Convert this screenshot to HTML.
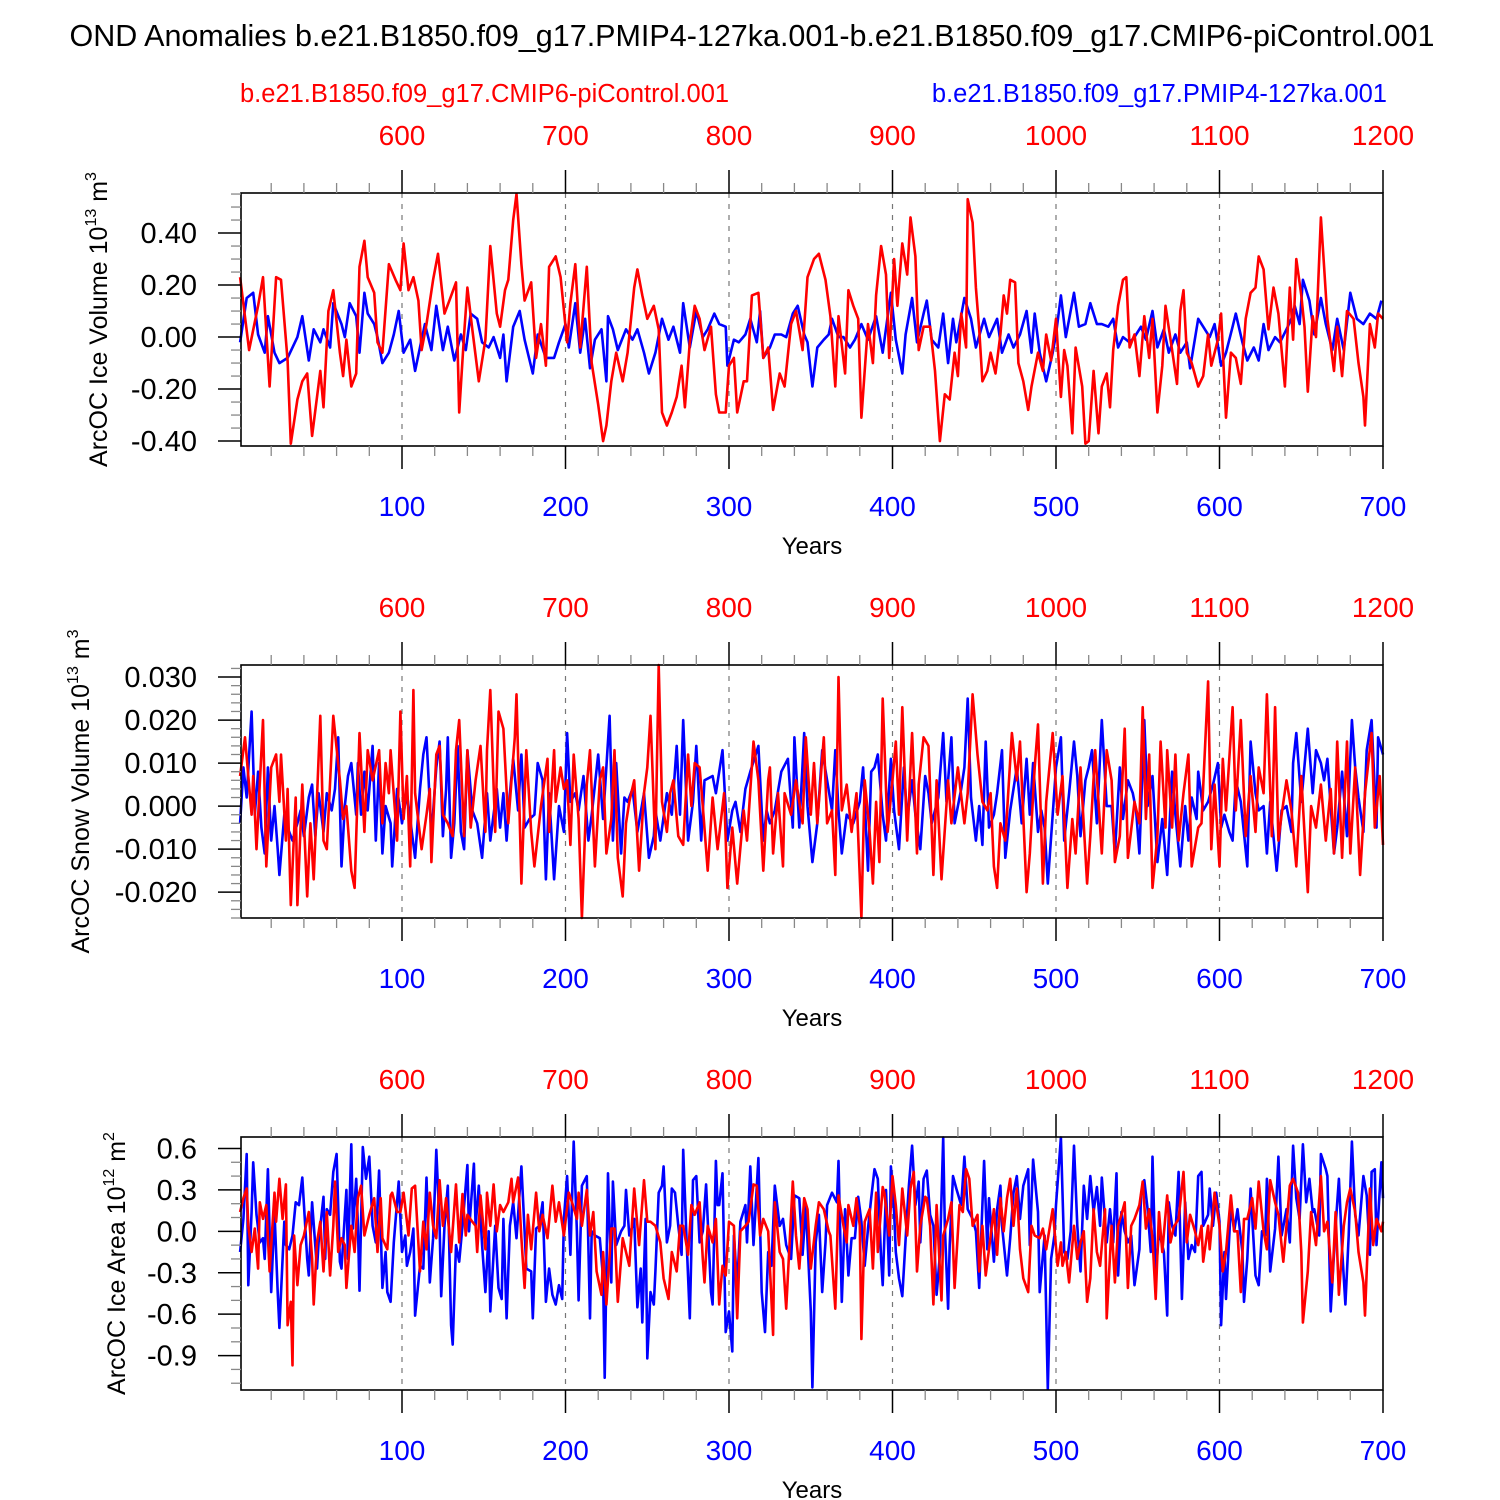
<!DOCTYPE html>
<html><head><meta charset="utf-8"><style>
html,body{margin:0;padding:0;background:#fff;}
svg{display:block;font-family:"Liberation Sans",Arial,sans-serif;}
</style></head><body>
<svg id="chart" width="1500" height="1500" viewBox="0 0 1500 1500" xmlns="http://www.w3.org/2000/svg">
<text x="752" y="46" font-size="30.5" text-anchor="middle" fill="#000">OND Anomalies b.e21.B1850.f09_g17.PMIP4-127ka.001-b.e21.B1850.f09_g17.CMIP6-piControl.001</text>
<text x="240" y="102" font-size="25.5" fill="#ff0000">b.e21.B1850.f09_g17.CMIP6-piControl.001</text>
<text x="1387" y="102" font-size="25.5" text-anchor="end" fill="#0000ff">b.e21.B1850.f09_g17.PMIP4-127ka.001</text>
</svg>
<script>
// ---------------- DATA ----------------
// Panel 1: ice volume (10^13 m^3)
const p1RedYears=[1,6.5,12,15,19,23,26,30,32,36,39,42,45,50,52,55,58,62,64,66,69,72,74,77,79,83,85,88,92,96,99,101,104,107,110,112,115,119,122,126,129,133,135,138,140,143,147,151,154,158,160,163,165,168,170,173,175,179,182,185,188,190,194,197,201,203,206,209,213,216,220,223,225,228,231,235,238,242,244,247,250,254,257,259,262,265,268,271,273,276,279,282,285,289,292,294,298,300,303,305,309,311,314,318,321,324,327,331,334,338,341,345,348,352,355,359,362,365,367,371,373,376,379,381,385,388,390,393,396,398,401,403,406,409,411,414,416,419,423,426,429,432,435,438,440,442,445,446,449,451,453,455,458,460,463,466,468,470,472,475,477,480,483,485,489,492,494,497,500,503,505,507,510,512,516,518,520,523,526,528,531,533,535,538,541,543,545,548,551,554,557,559,562,565,567,571,574,576,578,580,583,587,590,593,595,599,601,604,607,610,613,616,619,622,624,627,630,633,636,638,640,643,645,647,650,652,654,657,659,662,664,666,670,672,675,678,682,685,688,689,692,695,697,700];
const p1RedVals=[.23,-.05,.12,.23,-.19,.23,.22,-.09,-.41,-.24,-.17,-.14,-.38,-.13,-.27,.10,.18,-.06,-.15,-.01,-.19,-.14,.27,.37,.23,.17,-.02,-.06,.28,.22,.18,.36,.18,.23,.14,-.05,.05,.22,.32,.09,.14,.21,-.29,.01,.19,.03,-.17,-.01,.35,.09,.04,.18,.22,.45,.55,.28,.14,.21,-.08,.05,-.11,.27,.31,.23,-.02,.13,.28,-.04,.27,-.10,-.26,-.40,-.34,-.17,-.06,-.17,-.06,.19,.26,.16,.07,.12,.03,-.29,-.34,-.29,-.23,-.11,-.27,-.02,.12,.07,-.05,.04,-.22,-.29,-.29,-.11,-.08,-.29,-.17,-.17,.16,.17,-.08,-.04,-.28,-.14,-.19,.05,.10,-.05,.23,.30,.32,.22,.08,-.19,.08,-.14,.18,.12,.07,-.31,.05,-.10,.16,.35,.24,-.08,.30,.12,.36,.24,.46,.31,-.05,.04,.04,-.13,-.40,-.22,-.24,-.06,-.15,.09,-.04,.53,.44,.19,.03,-.17,-.13,-.06,-.14,.01,.16,.09,.22,.21,-.10,-.17,-.28,-.19,-.06,-.13,.01,-.09,.07,-.23,-.05,-.11,-.37,-.04,-.19,-.41,-.40,-.13,-.37,-.19,-.14,-.27,-.05,.12,.22,.23,-.04,.01,-.15,.08,-.08,.07,-.29,-.11,.12,-.05,-.18,.10,.18,-.06,-.10,-.19,-.15,.01,-.11,-.01,.09,-.31,-.06,-.08,-.18,.07,.17,.19,.31,.26,.03,.19,.09,-.05,-.19,.19,-.01,.30,.16,.04,-.21,.08,.00,.46,.27,.07,-.13,.04,-.15,.10,.07,-.10,-.23,-.34,.05,-.04,.09,.07];
const p1BlueYears=[1,5,9,12,16,18,22,25,30,36,39,43,46,50,52,56,58,63,65,68,72,74,77,79,83,85,88,92,95,98,101,105,108,112,114,118,121,125,128,132,136,139,142,146,149,153,156,160,162,164,168,172,175,180,183,188,193,196,200,202,206,209,212,215,218,222,225,226,229,232,237,241,244,248,251,255,259,263,266,270,272,276,280,284,287,291,294,298,299,303,306,310,313,317,319,321,325,328,332,335,339,342,346,348,351,354,358,361,363,367,370,374,377,381,385,390,394,399,402,406,408,412,415,419,421,424,428,431,434,437,439,444,448,451,456,459,464,467,471,474,478,482,485,487,490,494,498,500,503,506,511,514,518,521,525,528,532,535,538,541,545,548,552,555,559,562,566,569,573,576,580,582,587,590,594,597,601,604,608,610,614,617,621,624,627,630,634,637,641,644,646,649,651,655,658,662,665,669,672,676,680,684,688,692,696,699];
const p1BlueVals=[-.02,.15,.17,.01,-.06,.08,-.06,-.10,-.08,.00,.08,-.09,.03,-.02,.03,-.04,.13,.05,.00,.13,.08,-.06,.17,.09,.05,.00,-.10,-.06,.01,.10,-.06,-.01,-.13,-.01,.05,-.05,.12,-.05,.04,-.09,.01,-.05,.09,.07,-.02,-.04,.00,-.08,.01,-.17,.04,.10,-.01,-.14,.01,-.08,-.08,-.02,.05,-.04,.13,-.06,.07,-.12,-.01,.03,-.17,.08,.03,-.05,.03,-.01,.03,-.06,-.14,-.06,.07,-.01,.04,-.06,.13,-.04,.10,.00,.03,.09,.05,.04,-.11,-.01,-.02,.01,.07,-.02,.10,-.08,-.04,.01,.01,.00,.09,.12,.01,-.02,-.19,-.04,-.01,.01,.07,.00,.00,-.04,-.01,.05,-.01,.08,-.06,.17,-.01,-.14,.01,.15,-.02,.09,.14,-.01,-.04,.09,-.10,.07,-.02,.15,.07,-.04,.07,.00,.07,-.06,.01,-.04,.01,.10,-.06,.09,-.06,-.17,-.06,.01,.16,.00,.17,.04,.05,.13,.05,.05,.04,.07,-.04,.00,-.02,.00,.04,-.01,.10,-.04,.03,-.06,.01,-.06,-.02,-.12,.07,.04,.00,.05,-.11,-.06,.04,.09,-.02,-.09,-.04,-.09,.05,-.05,.00,-.02,.03,.07,.12,.05,.22,.14,.01,.15,.05,-.05,.07,-.05,.17,.07,.05,.09,.07,.14];
// Panel 2: snow volume (10^-3 x 10^13 m^3)
const p2RedYears=[1,4,8,9,11,15,17,20,23,25,26,29,30,32,35,36,39,42,44,46,50,52,54,58,62,64,66,69,71,74,77,79,82,86,88,90,92,93,97,99,101,103,105,107,108,112,115,117,118,121,123,125,128,131,133,135,138,140,142,145,148,151,152,154,157,159,162,165,167,169,170,173,176,179,181,185,189,190,193,194,197,199,201,203,205,208,210,213,215,218,221,223,225,228,230,232,235,237,239,242,245,248,250,252,255,257,259,262,264,266,269,272,275,277,279,282,284,287,290,293,297,299,302,305,309,311,315,318,321,324,325,327,330,333,334,338,341,345,347,350,352,354,358,360,363,365,367,369,372,375,378,381,383,386,388,390,392,394,397,400,402,404,406,409,412,415,416,419,422,425,427,430,434,436,440,444,446,449,452,455,458,460,462,464,466,469,473,476,478,482,484,487,489,492,494,498,501,504,507,510,512,515,519,521,524,528,531,534,536,539,542,544,548,551,553,555,557,559,562,564,567,568,571,573,575,578,581,583,587,589,593,595,597,600,602,604,608,610,613,616,619,622,624,627,629,632,634,636,638,641,644,647,650,654,656,659,662,665,668,670,672,675,678,680,683,686,689,693,695,698,700];
const p2RedVals=[7,16,-2,7,-10,20,-14,9,12,1,12,-8,4,-23,2,-23,5,-21,-4,-17,21,-8,-10,21,6,-3,0,-15,-19,17,-6,13,6,13,-4,10,3,13,-8,22,-3,7,-14,27,3,-10,-2,4,-13,12,14,-2,-4,-7,13,20,-7,13,-5,6,14,-6,13,27,-6,22,18,-4,6,16,26,-18,13,-6,-14,0,11,-6,13,1,9,4,6,-9,12,-3,-26,5,13,-14,6,9,-11,-3,13,-12,-21,-4,1,6,-15,3,9,21,-10,33,1,-6,3,6,-7,-9,12,0,10,9,0,-15,2,-10,3,-19,-5,-18,-1,-8,15,6,-15,6,9,-11,3,-14,3,-2,6,-4,16,-2,10,-4,16,-4,-1,-16,30,-1,5,-6,3,-26,6,-6,-18,1,-13,25,-6,6,15,-2,23,-8,17,-11,5,16,14,-16,6,-17,6,-4,9,-4,3,26,12,1,-1,3,-14,-19,-4,-8,17,6,15,-20,-11,9,19,-18,1,17,-2,7,-19,-3,-11,9,-18,-7,13,-11,13,6,-13,-7,18,-12,1,-4,23,-3,12,-19,-7,15,-5,13,-5,12,-8,3,12,-14,-5,-4,29,-10,5,-14,11,-1,23,-1,20,-7,7,-6,9,3,26,-7,23,-8,-2,6,-1,-14,7,-20,0,-5,5,-8,4,-11,15,-12,15,-11,9,-16,3,17,-5,7,-9];
const p2BlueYears=[1,3,5,8,10,12,14,16,18,20,22,24,25,28,30,33,36,38,40,43,45,47,49,52,54,57,59,61,63,65,67,69,72,73,75,77,79,82,84,86,88,90,93,94,97,100,103,106,108,111,113,115,118,121,123,125,127,128,130,132,134,136,138,140,143,146,149,152,154,158,160,162,164,166,168,171,173,175,178,181,183,186,188,190,193,196,199,201,203,206,208,211,214,216,220,223,227,229,231,234,236,238,241,244,248,251,254,255,258,262,265,268,270,272,275,278,280,283,285,290,292,296,299,302,304,307,310,313,318,321,323,325,328,332,336,339,340,343,346,348,351,354,357,360,363,365,367,369,372,376,380,382,385,387,389,391,394,396,399,401,404,407,409,412,414,417,420,422,424,428,431,433,436,438,442,444,446,448,451,453,455,457,459,462,464,467,469,472,474,476,479,482,484,486,489,491,493,495,498,500,503,505,508,511,513,515,518,520,522,525,528,531,534,536,539,541,544,547,549,551,554,556,559,562,565,568,571,573,576,579,581,583,586,587,590,593,596,599,601,603,606,608,610,613,617,619,622,624,627,629,631,635,638,641,644,645,647,650,654,657,659,662,664,666,670,672,675,678,681,683,685,688,690,693,696,697,700];
const p2BlueVals=[-4,9,2,22,-2,8,-5,-11,9,-8,0,-10,-16,-2,-5,-8,-4,-1,-7,2,5,-7,3,-6,3,-1,4,16,-14,0,7,10,-2,10,-2,8,-1,14,-8,10,-11,0,-4,-14,4,-4,3,-6,-12,4,12,16,-7,9,15,-7,4,16,-12,-4,14,-6,-10,13,-1,-4,-12,3,-8,4,-5,3,-8,3,11,-1,12,-5,-3,-2,10,6,-17,3,-17,0,-6,17,1,3,-1,7,-8,-2,12,-3,21,-8,10,-11,2,1,4,-6,3,-12,-7,-1,-8,3,-2,14,-2,20,-8,1,14,-8,6,7,3,13,-8,-1,1,-6,4,8,14,-8,-1,-4,-1,8,11,-5,16,-5,17,0,-13,-4,13,6,-1,13,-1,-11,-2,-4,1,9,-15,8,9,12,-2,-8,11,-1,-10,9,-3,6,-2,-10,7,3,-4,2,17,1,16,-4,4,9,25,2,-8,0,-9,15,-5,-2,3,13,-12,-1,4,9,-4,11,-2,10,-6,-1,-5,-18,-2,9,16,-8,3,15,7,-7,6,9,13,-4,20,0,0,-11,9,-3,6,3,-1,-11,20,0,7,-13,-3,-16,8,-2,-14,0,-8,2,-3,8,-1,1,5,10,-5,-2,-6,-8,6,1,-14,15,3,-1,0,-11,1,-15,-1,0,-6,10,17,1,18,3,13,10,6,11,-11,-5,8,-7,20,9,2,-6,13,20,-5,16,12];
// Panel 3: ice area (10^-2 x 10^12 m^2)
const p3RedYears=[1,3,5,6,8,10,12,13,15,17,19,22,23,25,27,29,30,32,33,34,36,38,40,43,45,46,48,50,52,54,56,58,59,61,63,65,66,69,71,73,75,77,80,83,85,87,88,91,93,94,97,99,101,104,106,108,111,113,115,117,119,121,123,125,127,130,133,135,137,139,140,143,145,146,148,151,152,154,156,158,160,162,165,167,168,171,173,175,177,179,182,184,186,189,192,194,196,199,200,202,204,207,208,210,213,215,217,219,222,223,225,228,230,232,235,237,239,242,244,245,248,250,252,255,258,260,263,265,268,270,272,275,277,279,282,284,285,287,290,292,294,296,298,300,303,305,307,310,312,315,317,319,321,324,327,328,331,333,335,339,341,343,346,348,350,353,355,358,361,362,365,367,370,372,373,376,378,380,381,383,386,388,390,391,394,395,398,400,402,404,406,409,411,413,415,417,420,421,423,425,427,430,431,434,436,438,441,443,445,447,449,452,453,455,457,459,462,464,466,468,470,472,474,476,478,480,483,485,487,490,492,494,496,498,501,503,504,506,508,511,513,515,517,519,521,523,525,527,530,531,534,536,538,540,542,544,546,548,551,553,555,557,559,561,563,565,568,570,572,575,578,580,582,585,587,589,590,593,594,597,600,602,604,607,609,611,613,615,617,620,622,624,627,629,631,634,636,639,641,643,645,648,650,651,654,656,659,662,664,666,669,671,673,676,678,680,683,685,688,689,692,694,696,699,700];
const p3RedVals=[14,24,31,4,-15,2,-27,21,9,19,-29,28,7,38,9,34,-68,-51,-97,-3,-39,-10,-3,14,-20,-53,-8,7,-29,14,-32,4,36,-15,-5,-10,-41,4,-15,24,33,-3,12,24,-15,24,-5,-13,26,28,14,14,28,-3,31,33,-29,7,-13,28,4,-5,37,4,24,-15,34,-8,27,-3,12,7,4,-15,26,-13,28,4,34,0,19,14,21,38,21,39,-5,-41,12,-13,28,0,12,-5,33,7,21,-3,7,28,21,9,28,4,30,-3,14,-29,-46,-15,-53,2,2,-51,-5,-15,-25,31,4,-10,37,7,7,4,-8,-34,-49,-15,-29,4,4,-17,19,12,21,-20,-37,4,-8,9,-53,-25,-32,7,4,-63,0,4,7,34,33,-3,9,0,-75,21,-15,-20,-56,36,-3,-27,24,16,-27,4,21,16,0,-3,-56,26,4,-8,19,4,24,4,-78,7,16,-27,28,-15,32,28,-3,40,19,-10,31,-3,31,43,-29,4,25,24,4,-53,19,-50,-3,9,21,-41,19,14,45,38,4,12,-29,4,-32,-13,16,-17,24,0,24,38,4,31,-13,-34,-44,4,-3,-5,2,-13,2,16,-25,-8,-25,-15,-37,4,-20,-8,0,-51,-34,16,-15,-25,16,-63,4,-37,4,12,21,-41,4,9,19,36,2,16,-5,-49,14,-15,26,-8,3,9,43,-8,12,0,-10,4,-22,4,-13,28,4,-29,-15,26,0,0,-44,9,9,24,2,36,0,-13,37,21,12,-22,4,33,38,28,-15,-66,-29,14,-10,40,0,7,-37,14,-46,4,21,31,14,-15,-37,-61,31,-10,9,0,7];
const p3BlueYears=[1,3,5,6,8,9,11,13,15,16,18,20,22,24,25,28,29,31,33,35,37,39,42,43,45,48,49,52,53,54,56,58,60,62,63,66,67,69,70,72,73,74,76,78,80,82,84,86,88,90,91,93,95,98,100,102,103,105,107,108,111,113,115,117,119,121,123,124,126,128,130,131,133,135,137,140,141,144,145,147,149,151,153,154,157,159,161,162,164,166,168,170,173,175,176,179,180,182,184,186,188,190,192,194,196,198,199,201,203,205,207,208,210,213,215,216,218,221,223,224,226,228,229,231,234,236,237,239,241,242,244,246,247,249,250,252,254,255,257,259,260,262,264,265,267,269,271,272,274,276,278,280,282,284,286,289,290,292,293,294,296,298,300,302,303,305,307,310,311,313,315,318,320,322,324,326,328,331,333,335,338,340,343,345,347,350,351,353,355,357,359,360,363,366,367,369,371,373,375,377,379,381,383,385,387,389,391,393,394,396,398,399,401,402,404,406,409,410,412,414,416,417,419,421,423,425,427,429,431,432,434,435,437,439,442,444,446,449,451,453,456,458,459,462,464,466,467,470,472,474,476,478,480,483,484,486,489,490,493,495,497,499,500,503,505,507,509,511,513,515,517,519,521,523,525,527,528,531,533,535,537,538,540,542,544,546,548,551,552,554,556,558,559,561,563,566,568,569,571,573,575,577,579,581,583,585,587,589,590,593,594,596,598,600,601,603,604,607,609,611,614,615,617,619,622,624,626,628,629,631,634,636,638,641,643,645,647,649,651,653,655,657,658,661,662,665,666,668,671,673,675,677,679,681,683,685,688,690,692,693,695,696,699,700];
const p3BlueVals=[-15,9,56,-39,14,50,12,-8,-5,-20,45,-44,14,-44,-70,7,-10,-13,-3,21,19,39,-20,-32,21,-27,-8,25,-20,16,12,43,56,-22,-27,30,-20,63,2,38,4,-43,61,38,54,4,-8,44,-41,-15,-44,-51,-8,36,-15,-3,-25,-15,2,-61,-25,-27,39,-37,-5,59,4,-47,4,33,-68,-82,-10,-22,4,48,0,49,4,33,-10,-44,0,-58,4,-41,-49,9,-63,4,21,-5,47,0,-27,-29,-63,2,4,21,-51,-27,-46,-53,-39,-49,9,40,-17,65,0,-50,33,40,-63,0,-3,-5,-34,-106,42,-37,36,-10,0,4,30,-3,4,9,-55,-27,-66,9,-92,-44,-53,-29,28,33,47,-8,4,31,28,4,-17,59,-5,-63,37,40,-8,0,34,-44,-53,51,19,19,42,-73,-58,-87,-3,-39,7,19,-8,47,-10,53,-44,-73,-15,-25,33,4,9,-10,-20,26,24,-17,19,-58,-113,-8,12,-44,-8,19,28,21,51,-51,16,-32,-5,-5,25,7,-25,2,24,45,38,-20,-39,30,-32,47,14,-15,-34,-47,14,33,62,19,36,-8,38,44,12,4,-46,-17,68,4,-56,-10,40,31,19,54,16,9,0,-41,51,-13,24,-22,16,33,4,-32,-5,28,40,9,33,45,-10,52,14,-44,-3,-114,-20,-3,19,68,-15,-20,0,62,4,-29,33,9,40,14,32,4,39,-8,16,-8,42,-32,14,0,-8,-3,-39,-13,26,37,16,-15,54,-32,0,-15,-61,21,4,-3,43,-49,21,-20,-10,-15,40,43,4,12,31,4,28,7,-68,-15,-49,19,0,16,-15,-51,-20,31,-32,-39,0,-3,38,-29,2,54,-3,16,-8,62,24,9,63,21,38,14,16,-3,56,45,40,-58,4,38,-13,-53,-3,65,12,-3,40,26,-17,43,45,-10,50,24];
// axis tick labels
const blueTickLabels=["100","200","300","400","500","600","700"];
const redTickLabels=["600","700","800","900","1000","1100","1200"];
const p1TickLabels=["-0.40","-0.20","0.00","0.20","0.40"];
const p2TickLabels=["-0.020","-0.010","0.000","0.010","0.020","0.030"];
const p3TickLabels=["-0.9","-0.6","-0.3","0.0","0.3","0.6"];

// ---------------- DRAWING ----------------
const NS="http://www.w3.org/2000/svg";
const svg=document.getElementById('chart');
function mk(tag,attrs,parent){const e=document.createElementNS(NS,tag);for(const k in attrs)e.setAttribute(k,attrs[k]);(parent||svg).appendChild(e);return e;}
const X0=241,X1=1383;
const xScale=yr=>238.5+yr*1.635;

const panels=[
 {top:193,bot:446,vmin:-0.419,vmax:0.554,scale:1,minor:0.05,majorVals:[-0.4,-0.2,0,0.2,0.4],labels:p1TickLabels,red:[p1RedYears,p1RedVals],blue:[p1BlueYears,p1BlueVals],title:"ArcOC Ice Volume 10",sup:"13",unit:" m",usup:"3",titleX:107,name:"ice-volume"},
 {top:665,bot:918,vmin:-0.0260,vmax:0.0328,scale:0.001,minor:0.002,majorVals:[-0.02,-0.01,0,0.01,0.02,0.03],labels:p2TickLabels,red:[p2RedYears,p2RedVals],blue:[p2BlueYears,p2BlueVals],title:"ArcOC Snow Volume 10",sup:"13",unit:" m",usup:"3",titleX:89,name:"snow-volume"},
 {top:1137,bot:1390,vmin:-1.149,vmax:0.683,scale:0.01,minor:0.1,majorVals:[-0.9,-0.6,-0.3,0,0.3,0.6],labels:p3TickLabels,red:[p3RedYears,p3RedVals],blue:[p3BlueYears,p3BlueVals],title:"ArcOC Ice Area 10",sup:"12",unit:" m",usup:"2",titleX:125,name:"ice-area"}
];

panels.forEach((p,pi)=>{
  const g=mk('g',{});
  
  
  const yScale=v=>p.bot-(v-p.vmin)/(p.vmax-p.vmin)*(p.bot-p.top);
  for(let yr=100;yr<=600;yr+=100){
    const l=mk('line',{x1:xScale(yr),x2:xScale(yr),y1:p.top,y2:p.bot,stroke:'#777','stroke-width':1.2,'stroke-dasharray':'5,6'},g);
    
    
  }
  [['blue',p.blue,'#0000ff'],['red',p.red,'#ff0000']].forEach(s=>{
    const yrs=s[1][0],vals=s[1][1];
    let d='';
    for(let i=0;i<yrs.length;i++){
      const v=Math.max(p.vmin,Math.min(p.vmax,vals[i]*p.scale));
      d+=(i?'L':'M')+xScale(yrs[i]).toFixed(1)+','+yScale(v).toFixed(1);
    }
    const path=mk('path',{d:d,fill:'none',stroke:s[2],'stroke-width':2.6,'stroke-linejoin':'round'},g);
    
    
  });
  const fr=mk('rect',{x:X0,y:p.top,width:X1-X0,height:p.bot-p.top,fill:'none',stroke:'#000','stroke-width':1.6},g);
  
  
  for(let yr=20;yr<=700;yr+=20){
    const x=xScale(yr);const major=yr%100===0;const len=major?23:10;
    mk('line',{x1:x,x2:x,y1:p.top,y2:p.top-len,stroke:major?'#000':'#888','stroke-width':major?1.5:1.3},g);
    mk('line',{x1:x,x2:x,y1:p.bot,y2:p.bot+len,stroke:major?'#000':'#888','stroke-width':major?1.5:1.3},g);
  }
  blueTickLabels.forEach((lab,i)=>{
    const t=mk('text',{x:xScale((i+1)*100),y:p.bot+70,'font-size':28,'text-anchor':'middle',fill:'#0000ff'},g);
    t.textContent=lab;
    
    
  });
  redTickLabels.forEach((lab,i)=>{
    const t=mk('text',{x:xScale((i+1)*100),y:p.top-48,'font-size':28,'text-anchor':'middle',fill:'#ff0000'},g);
    t.textContent=lab;
    
    
  });
  const xt=mk('text',{x:812,y:p.bot+108,'font-size':24,'text-anchor':'middle',fill:'#000'},g);
  xt.textContent='Years';
  
  
  const n0=Math.ceil(p.vmin/p.minor-1e-6),n1=Math.floor(p.vmax/p.minor+1e-6);
  for(let n=n0;n<=n1;n++){
    const v=n*p.minor;const y=yScale(v);
    const major=p.majorVals.some(m=>Math.abs(m-v)<p.minor/10);
    mk('line',{x1:X0,x2:X0-(major?23:10),y1:y,y2:y,stroke:major?'#000':'#888','stroke-width':major?1.5:1.3},g);
  }
  p.majorVals.forEach((v,i)=>{
    const t=mk('text',{x:197,y:yScale(v)+10,'font-size':29,'text-anchor':'end',fill:'#000'},g);
    t.textContent=p.labels[i];
    
    
  });
  const cy=(p.top+p.bot)/2;
  const yt=mk('text',{x:p.titleX,y:cy,'font-size':25,'text-anchor':'middle',fill:'#000',transform:'rotate(-90 '+p.titleX+' '+cy+')'},g);
  
  
  yt.appendChild(document.createTextNode(p.title));
  const s1=mk('tspan',{dy:-11,'font-size':16},yt);s1.textContent=p.sup;
  const s2=mk('tspan',{dy:11},yt);s2.textContent=p.unit;
  const s3=mk('tspan',{dy:-11,'font-size':16},yt);s3.textContent=p.usup;
});
</script>
</body></html>
